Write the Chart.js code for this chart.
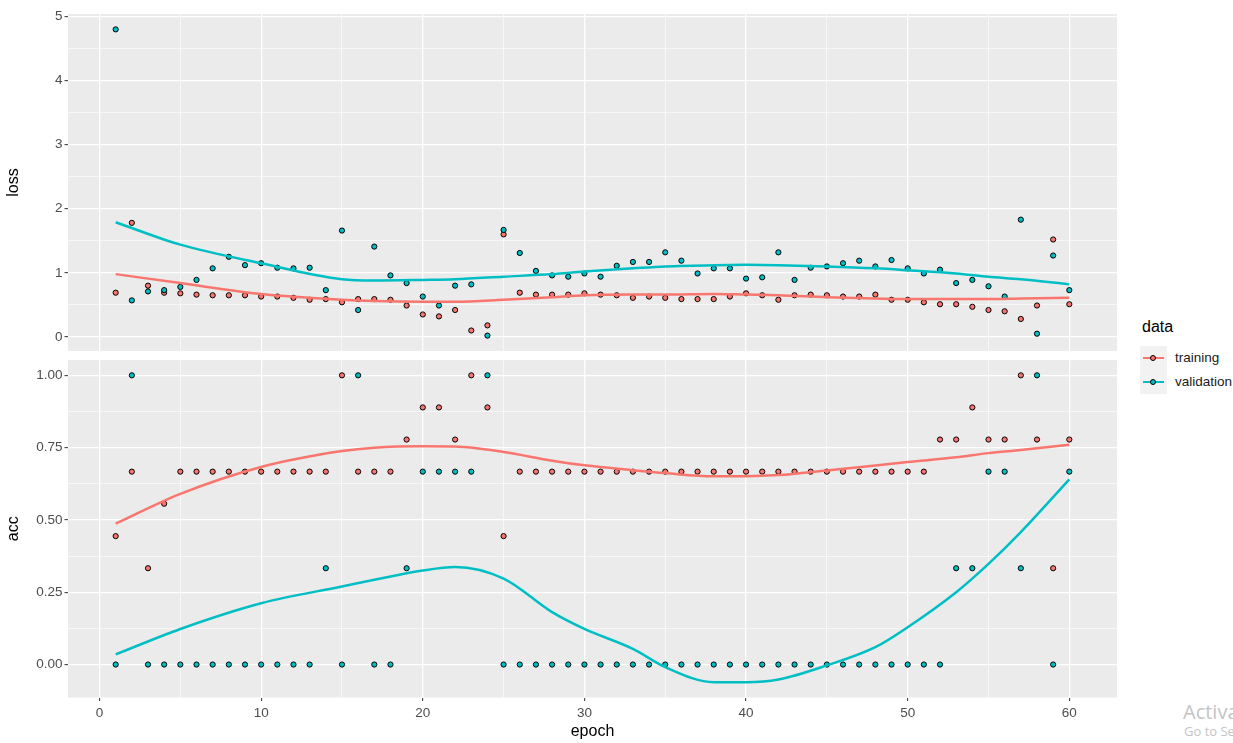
<!DOCTYPE html>
<html>
<head>
<meta charset="utf-8">
<title>loss / acc by epoch</title>
<script src="https://cdn.jsdelivr.net/npm/chart.js@4.4.1/dist/chart.umd.min.js"></script>
<style>
  html, body { margin: 0; padding: 0; background: #fff; width: 1233px; height: 743px; overflow: hidden;
    font-family: "Liberation Sans", Arial, sans-serif; }
  #lossChart { position: absolute; left: 0; top: 0; }
  #accChart { position: absolute; left: 0; top: 360px; }
  .legend-title { position: absolute; left: 1142px; top: 318px; font-size: 16px; color: #000; }
  .key { position: absolute; left: 1140px; width: 27px; height: 24px; background: #F2F2F2; }
  .key .ln { position: absolute; left: 3px; top: 10.5px; width: 21px; height: 2.5px; }
  .key .dot { position: absolute; left: 10px; top: 9px; width: 4px; height: 4px; border: 1px solid #000; border-radius: 50%; }
  .key-label { position: absolute; left: 1175px; font-size: 13.5px; color: #1a1a1a; }
  .wm1 { position: absolute; left: 1183px; top: 698px; font-family: "Open Sans", sans-serif; font-size: 20px; color: #c4c4c4; white-space: nowrap; }
  .wm2 { position: absolute; left: 1184px; top: 722px; font-family: "Open Sans", sans-serif; font-size: 13px; color: #c4c4c4; white-space: nowrap; }
</style>
</head>
<body>
<canvas id="lossChart" width="1117" height="351"></canvas>
<canvas id="accChart" width="1117" height="383"></canvas>

<div class="legend-title">data</div>
<div class="key" style="top:346px"><div class="ln" style="background:#F8766D"></div><div class="dot" style="background:#F8766D"></div></div>
<div class="key" style="top:370px"><div class="ln" style="background:#00BFC4"></div><div class="dot" style="background:#00BFC4"></div></div>
<div class="key-label" style="top:350px">training</div>
<div class="key-label" style="top:374px">validation</div>

<div class="wm1">Activate Windows</div>
<div class="wm2">Go to Settings to activate Windows.</div>

<script>
// epochs and tick labels
const epochs = [1, 2, 3, 4, 5, 6, 7, 8, 9, 10, 11, 12, 13, 14, 15, 16, 17, 18, 19, 20,
  21, 22, 23, 24, 25, 26, 27, 28, 29, 30, 31, 32, 33, 34, 35, 36, 37, 38, 39, 40,
  41, 42, 43, 44, 45, 46, 47, 48, 49, 50, 51, 52, 53, 54, 55, 56, 57, 58, 59, 60];
const epochTicks = [0, 10, 20, 30, 40, 50, 60];
const lossTicks = [0, 1, 2, 3, 4, 5];
const accTicks = [0, 0.25, 0.5, 0.75, 1.0];

// loss per epoch
const lossTraining = [0.69, 1.78, 0.80, 0.69, 0.68, 0.66, 0.65, 0.65, 0.65, 0.63,
  0.63, 0.61, 0.58, 0.59, 0.54, 0.59, 0.59, 0.58, 0.49, 0.35,
  0.32, 0.42, 0.10, 0.18, 1.60, 0.69, 0.66, 0.66, 0.66, 0.68,
  0.66, 0.65, 0.61, 0.63, 0.61, 0.59, 0.59, 0.59, 0.63, 0.68,
  0.65, 0.58, 0.65, 0.66, 0.65, 0.63, 0.63, 0.66, 0.58, 0.58,
  0.54, 0.51, 0.51, 0.47, 0.42, 0.40, 0.28, 0.49, 1.52, 0.51];
const lossValidation = [4.80, 0.57, 0.71, 0.73, 0.78, 0.89, 1.07, 1.25, 1.12, 1.15,
  1.08, 1.07, 1.08, 0.73, 1.66, 0.42, 1.41, 0.96, 0.84, 0.63,
  0.49, 0.80, 0.82, 0.02, 1.67, 1.31, 1.03, 0.96, 0.94, 0.99,
  0.94, 1.11, 1.17, 1.17, 1.32, 1.19, 0.99, 1.07, 1.07, 0.91,
  0.93, 1.32, 0.89, 1.08, 1.10, 1.15, 1.19, 1.10, 1.20, 1.07,
  0.99, 1.05, 0.84, 0.89, 0.79, 0.63, 1.83, 0.05, 1.27, 0.73];

// acc per epoch
const accTraining = [0.444, 0.667, 0.333, 0.556, 0.667, 0.667, 0.667, 0.667, 0.667, 0.667,
  0.667, 0.667, 0.667, 0.667, 1.0, 0.667, 0.667, 0.667, 0.778, 0.889,
  0.889, 0.778, 1.0, 0.889, 0.444, 0.667, 0.667, 0.667, 0.667, 0.667,
  0.667, 0.667, 0.667, 0.667, 0.667, 0.667, 0.667, 0.667, 0.667, 0.667,
  0.667, 0.667, 0.667, 0.667, 0.667, 0.667, 0.667, 0.667, 0.667, 0.667,
  0.667, 0.778, 0.778, 0.889, 0.778, 0.778, 1.0, 0.778, 0.333, 0.778];
const accValidation = [0, 1.0, 0, 0, 0, 0, 0, 0, 0, 0,
  0, 0, 0, 0.333, 0, 1.0, 0, 0, 0.333, 0.667,
  0.667, 0.667, 0.667, 1.0, 0, 0, 0, 0, 0, 0,
  0, 0, 0, 0, 0, 0, 0, 0, 0, 0,
  0, 0, 0, 0, 0, 0, 0, 0, 0, 0,
  0, 0, 0.333, 0.333, 0.667, 0.667, 0.333, 1.0, 0, 0.667];

// smoothed curves
const smoothEpochs = [1, 5, 10, 15, 17, 20, 22, 25, 28, 30, 33, 35, 38, 40, 42, 45, 48, 50, 53, 55, 57, 60];
const lossTrainingSmooth = [0.98, 0.84, 0.67, 0.58, 0.56, 0.55, 0.55, 0.58, 0.62, 0.65, 0.66,
  0.66, 0.67, 0.66, 0.65, 0.62, 0.60, 0.59, 0.59, 0.59, 0.60, 0.61];
const lossValidationSmooth = [1.79, 1.44, 1.15, 0.90, 0.88, 0.89, 0.90, 0.94, 0.98, 1.02, 1.07,
  1.10, 1.12, 1.125, 1.12, 1.10, 1.07, 1.04, 0.99, 0.94, 0.90, 0.82];
const accTrainingSmooth = [0.487, 0.59, 0.683, 0.738, 0.75, 0.755, 0.754, 0.735, 0.705, 0.689, 0.672,
  0.662, 0.651, 0.651, 0.655, 0.671, 0.688, 0.70, 0.717, 0.731, 0.742, 0.76];
const accValidationSmooth = [0.035, 0.123, 0.212, 0.27, 0.293, 0.325, 0.337, 0.297, 0.181, 0.123, 0.054,
  -0.009, -0.061, -0.061, -0.052, -0.003, 0.06, 0.129, 0.25, 0.348, 0.458, 0.64];

const RED = '#F8766D';
const TEAL = '#00BFC4';

Chart.defaults.font.family = '"Liberation Sans", Arial, sans-serif';
Chart.defaults.animation = false;

// grey panel behind the grid, like ggplot's theme_gray
const panelBg = {
  id: 'panelBg',
  beforeDraw(chart) {
    const { ctx, chartArea } = chart;
    ctx.save();
    ctx.fillStyle = '#EBEBEB';
    ctx.fillRect(chartArea.left, chartArea.top, chartArea.width, chartArea.height);
    ctx.restore();
  }
};

// major ticks plus minor gridlines halfway between them
function withMinor(major) {
  const out = [];
  major.forEach((v, i) => {
    out.push({ value: v, isMinor: false });
    if (i < major.length - 1) out.push({ value: (v + major[i + 1]) / 2, isMinor: true });
  });
  return out;
}

function noPad(s) {
  s.paddingTop = 0;
  s.paddingBottom = 0;
  s.paddingLeft = 0;
  s.paddingRight = 0;
}

function gridOpts() {
  return {
    color: '#FFFFFF',
    lineWidth: c => (c.tick && c.tick.isMinor ? 0.6 : 1.3),
    tickColor: c => (c.tick && c.tick.isMinor ? 'rgba(0,0,0,0)' : '#333333'),
    tickLength: 3.5,
    tickWidth: 1
  };
}

function pts(xs, ys) {
  return xs.map((x, i) => ({ x: x, y: ys[i] }));
}

function makeDatasets(trainPts, valPts, trainSmooth, valSmooth) {
  return [
    { type: 'line', data: pts(smoothEpochs, valSmooth), borderColor: TEAL, borderWidth: 2.5,
      pointRadius: 0, cubicInterpolationMode: 'monotone', fill: false },
    { type: 'line', data: pts(smoothEpochs, trainSmooth), borderColor: RED, borderWidth: 2.5,
      pointRadius: 0, cubicInterpolationMode: 'monotone', fill: false },
    { type: 'scatter', data: pts(epochs, valPts), backgroundColor: TEAL, borderColor: '#000',
      borderWidth: 1, pointRadius: 2.6 },
    { type: 'scatter', data: pts(epochs, trainPts), backgroundColor: RED, borderColor: '#000',
      borderWidth: 1, pointRadius: 2.6 }
  ];
}

function yScale(title, major, min, max, fmt) {
  return {
    type: 'linear',
    min: min,
    max: max,
    afterBuildTicks: s => { s.ticks = withMinor(major); },
    afterFit: s => { s.width = 68; noPad(s); },
    border: { display: false },
    grid: gridOpts(),
    ticks: {
      autoSkip: false,
      padding: 2,
      color: '#4D4D4D',
      font: { size: 13.5 },
      callback: (v, i, ticks) => (ticks[i].isMinor ? '' : fmt(v))
    },
    title: { display: true, text: title, color: '#000', font: { size: 16 }, padding: { top: 4, bottom: 0 } }
  };
}

// top panel: loss
new Chart(document.getElementById('lossChart'), {
  type: 'line',
  data: { datasets: makeDatasets(lossTraining, lossValidation, lossTrainingSmooth, lossValidationSmooth) },
  options: {
    responsive: false,
    devicePixelRatio: 1,
    layout: { autoPadding: false, padding: { top: 14, right: 0, bottom: 0, left: 0 } },
    plugins: { legend: { display: false }, tooltip: { enabled: false } },
    scales: {
      x: {
        type: 'linear',
        min: -1.95,
        max: 62.95,
        afterBuildTicks: s => { s.ticks = withMinor(epochTicks); },
        afterFit: s => { s.height = 0; noPad(s); },
        border: { display: false },
        grid: Object.assign(gridOpts(), { drawTicks: false }),
        ticks: { display: false }
      },
      y: yScale('loss', lossTicks, -0.22, 5.04, v => String(v))
    }
  },
  plugins: [panelBg]
});

// bottom panel: acc
new Chart(document.getElementById('accChart'), {
  type: 'line',
  data: { datasets: makeDatasets(accTraining, accValidation, accTrainingSmooth, accValidationSmooth) },
  options: {
    responsive: false,
    devicePixelRatio: 1,
    layout: { autoPadding: false, padding: 0 },
    plugins: { legend: { display: false }, tooltip: { enabled: false } },
    scales: {
      x: {
        type: 'linear',
        min: -1.95,
        max: 62.95,
        afterBuildTicks: s => { s.ticks = withMinor(epochTicks); },
        afterFit: s => { s.height = 45.5; noPad(s); },
        border: { display: false },
        grid: gridOpts(),
        ticks: {
          autoSkip: false,
          maxRotation: 0,
          padding: 4,
          color: '#4D4D4D',
          font: { size: 13.5 },
          callback: (v, i, ticks) => (ticks[i].isMinor ? '' : String(v))
        },
        title: { display: true, text: 'epoch', color: '#000', font: { size: 16 }, padding: { top: 0, bottom: 1.5 } }
      },
      y: yScale('acc', accTicks, -0.114, 1.053, v => v.toFixed(2))
    }
  },
  plugins: [panelBg]
});
</script>
</body>
</html>
